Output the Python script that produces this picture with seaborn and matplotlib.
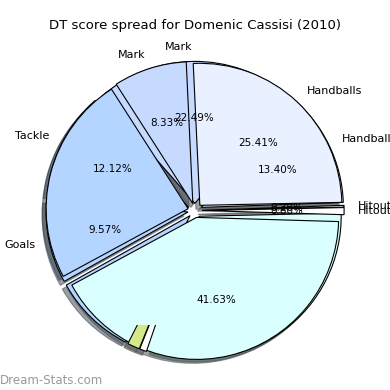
import matplotlib
matplotlib.use("Agg")
import matplotlib.pyplot as plt
from matplotlib.path import Path
import seaborn as sns

# ---- data ----
title = "DT score spread for Domenic Cassisi (2010)"

# lower layer
labels_b = ["Handballs", "Mark", "Tackle", "Goals", "", "", "", "", "Hitout"]
values_b = [13.40, 22.49, 12.12, 9.57, 9.40, 1.40, 0.80, 30.62, 0.20]
show_pct_b = [True, True, True, True, False, False, False, False, True]

# upper layer
labels_a = ["Handballs", "Mark", "", "", "Hitout"]
values_a = [25.41, 8.33, 23.83, 41.63, 0.80]
show_pct_a = [True, True, False, True, True]

watermark = "Dream-Stats.com"

# ---- styling ----
sns.set_style("white")
plt.rcParams["font.family"] = ["DejaVu Sans"]
plt.rcParams["text.color"] = "black"

colors_b = ["#e9f0ff", "#c6daff", "#b3d5ff", "#b3d5ff", "#b3d5ff",
            "#d4ea8a", "#ffffff", "#d9ffff", "#ffffff"]
colors_a = ["#e9f0ff", "#c6d9ff", "#b3d5ff", "#d9ffff", "#ffffff"]

fig = plt.figure(figsize=(3.9, 3.9), dpi=100)
ax = fig.add_axes([0, 0, 1, 1])

wp = dict(edgecolor="black", linewidth=0.8)
tp = dict(fontsize=8, color="black")

wb, tb, pb = ax.pie(values_b, labels=labels_b, colors=colors_b,
                    explode=[0.05] * len(values_b), startangle=2,
                    shadow=True, autopct=lambda p: f"{p:.2f}%",
                    wedgeprops=wp, textprops=tp)
for t, s in zip(pb, show_pct_b):
    t.set_fontsize(7.5)
    if not s:
        t.set_text("")

wa, ta, pa = ax.pie(values_a, labels=labels_a, colors=colors_a,
                    explode=[0.05] * len(values_a), startangle=1.2,
                    shadow=True, autopct=lambda p: f"{p:.2f}%",
                    wedgeprops=wp, textprops=tp)
for t, s in zip(pa, show_pct_a):
    t.set_fontsize(7.5)
    if not s:
        t.set_text("")

r_px = 142.0
ax.set_xlim(-195 / r_px, 195 / r_px)
ax.set_ylim(-179.5 / r_px, 210.5 / r_px)
ax.set_aspect("equal")
ax.axis("off")

# small slivers of the lower layer peeking through at the bottom edge
clip_path = Path([(-2, -2), (2, -2), (2, -0.806), (-2, -0.806), (-2, -2)],
                 closed=True)
for i in (5, 6):
    wb[i].set_zorder(2)
    wb[i].set_clip_on(True)
    wb[i].set_clip_path(clip_path, ax.transData)

fig.text(0.5, 1 - 26 / 390, title, ha="center", va="center", fontsize=9.5)
fig.text(0.0, 1 - 380 / 390, watermark, ha="left", va="center",
         fontsize=8.5, color="#999999")

fig.savefig("out.png", dpi=100)
